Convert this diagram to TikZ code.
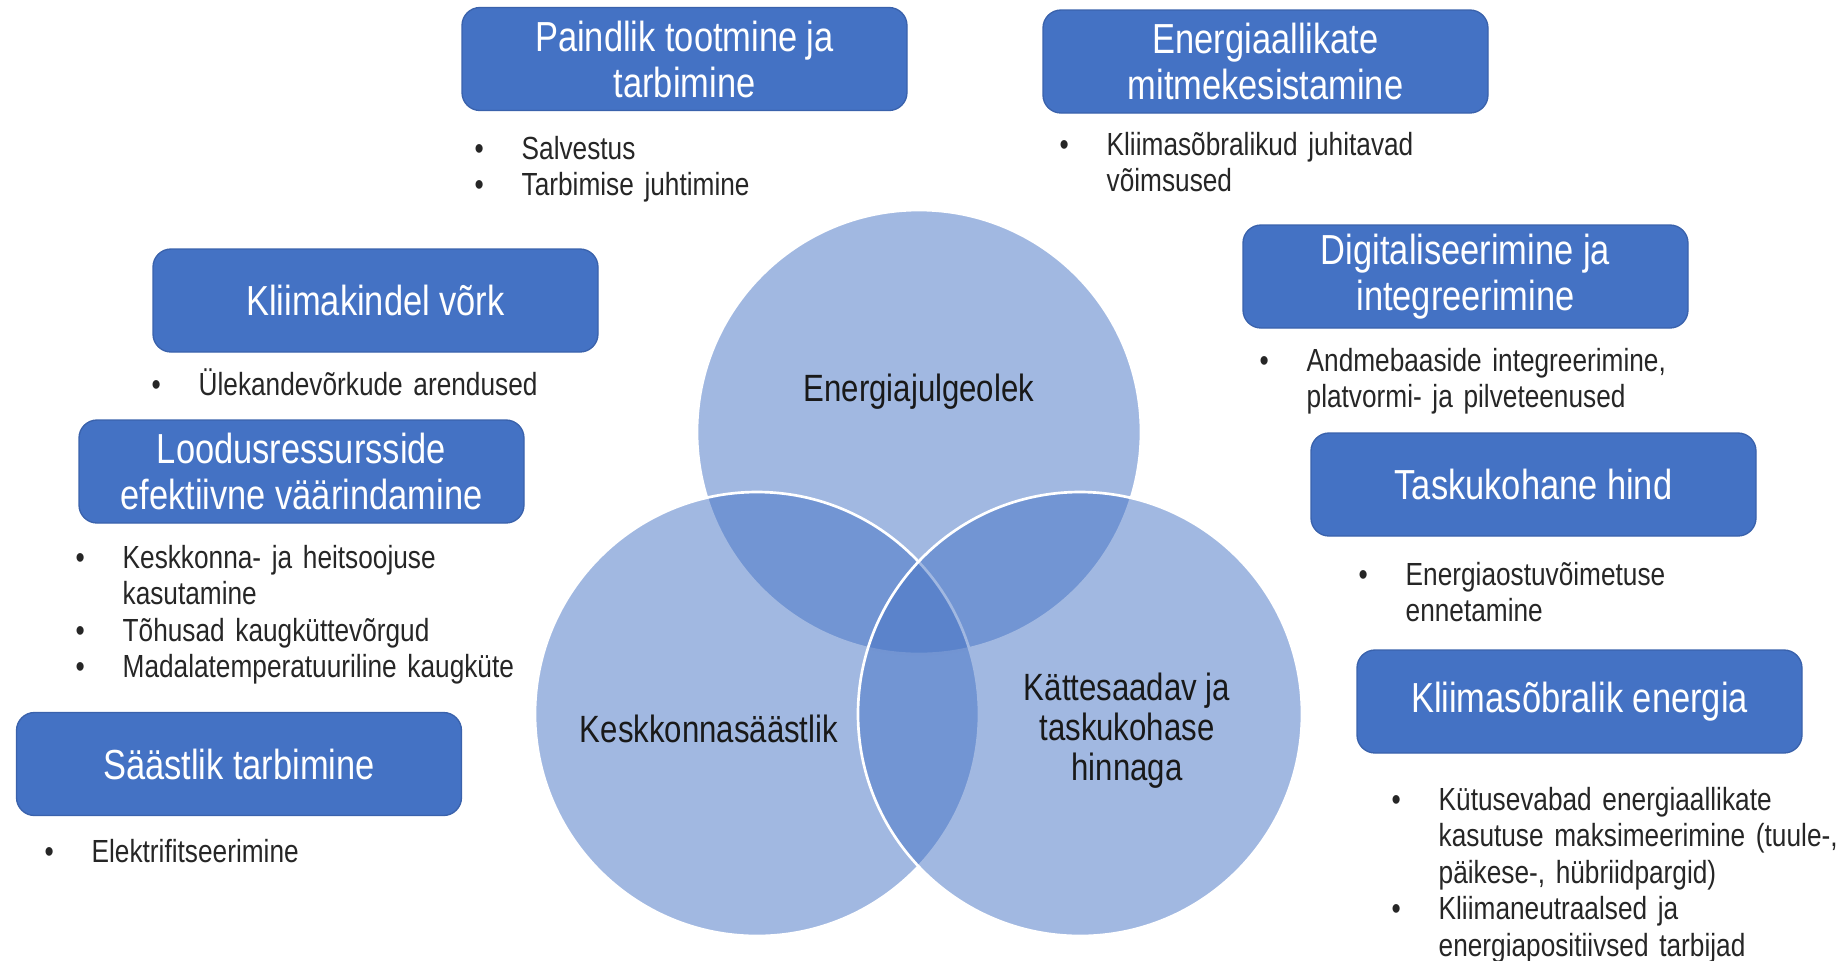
\documentclass[tikz,border=0pt]{standalone}
\usepackage{fontspec}
\setmainfont{Liberation Sans}[FakeStretch=0.82]
\usetikzlibrary{positioning}

\definecolor{boxblue}{HTML}{4472C4}
\definecolor{boxedge}{HTML}{3A62AC}
\definecolor{listgray}{HTML}{262626}

\newcommand{\pitem}[1]{\makebox[14.1pt][l]{\textbullet}#1}
\newcommand{\pcont}[1]{\hspace*{14.1pt}#1}

\tikzset{
  topic/.style={draw=boxedge, fill=boxblue, rounded corners=5.4pt,
    minimum width=133.5pt, minimum height=30.9pt, inner sep=0pt,
    text=white, align=center, font=\fontsize{12.6pt}{13.8pt}\selectfont},
  points/.style={anchor=base west, text width=170pt, align=left,
    inner sep=0pt, text=listgray, font=\fontsize{9.6pt}{10.95pt}\selectfont},
  ring/.style={fill=boxblue, fill opacity=0.5, draw=white, line width=0.8pt},
  theme/.style={align=center, text=black!90,
    font=\fontsize{11.4pt}{12pt}\selectfont}
}

\begin{document}
\begin{tikzpicture}[x=0.3pt,y=-0.3pt]
\useasboundingbox (0,0) rectangle (1847,960);

% Three pillars
\filldraw[ring] (919,432) circle (66.6pt);
\filldraw[ring] (757,714) circle (66.6pt);
\filldraw[ring] (1080,714) circle (66.6pt);

\node[theme] (security) at (919,392) {Energiajulgeolek};
\node[theme] (environment) at (709,729) {Keskkonnasäästlik};
\node[theme] (affordable) at (1127,731) {Kättesaadav ja\\taskukohase\\hinnaga};

% Topic boxes
\node[topic] (flexible) at (684.5,59) {Paindlik tootmine ja\\tarbimine};
\node[topic] (sources) at (1265.5,61.5) {Energiaallikate\\mitmekesistamine};
\node[topic] (grid) at (375.5,300.5) {Kliimakindel võrk};
\node[topic] (digital) at (1465.5,276.5) {Digitaliseerimine ja\\integreerimine};
\node[topic] (nature) at (301.5,471.5) {Loodusressursside\\efektiivne väärindamine};
\node[topic] (price) at (1533.5,484.5) {Taskukohane hind};
\node[topic] (saving) at (239,764) {Säästlik tarbimine};
\node[topic] (climate) at (1579.5,701.5) {Kliimasõbralik energia};

% Bullet lists under the boxes
\node[points] (flexible-list) at (474,159) {\pitem{Salvestus}\\\pitem{Tarbimise juhtimine}};
\node[points] (sources-list) at (1059,155) {\pitem{Kliimasõbralikud juhitavad}\\\pcont{võimsused}};
\node[points] (grid-list) at (151,395) {\pitem{Ülekandevõrkude arendused}};
\node[points] (nature-list) at (75,568) {\pitem{Keskkonna- ja heitsoojuse}\\\pcont{kasutamine}\\\pitem{Tõhusad kaugküttevõrgud}\\\pitem{Madalatemperatuuriline kaugküte}};
\node[points] (saving-list) at (44,862) {\pitem{Elektrifitseerimine}};
\node[points] (digital-list) at (1259,371) {\pitem{Andmebaaside integreerimine,}\\\pcont{platvormi- ja pilveteenused}};
\node[points] (price-list) at (1358,585) {\pitem{Energiaostuvõimetuse}\\\pcont{ennetamine}};
\node[points] (climate-list) at (1391,810) {\pitem{Kütusevabad energiaallikate}\\\pcont{kasutuse maksimeerimine (tuule-,}\\\pcont{päikese-, hübriidpargid)}\\\pitem{Kliimaneutraalsed ja}\\\pcont{energiapositiivsed tarbijad}};

\end{tikzpicture}
\end{document}
